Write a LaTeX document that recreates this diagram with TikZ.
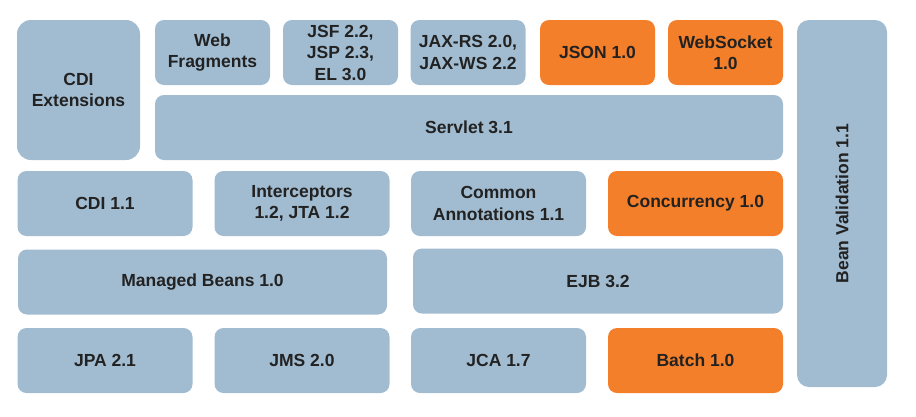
\documentclass[tikz,border=0pt]{standalone}
\usepackage{fontspec}
\setmainfont{Liberation Sans}
\definecolor{specblue}{HTML}{A1BCD1}
\definecolor{neworange}{HTML}{F47F2A}
\definecolor{labeltext}{HTML}{222222}

\begin{document}
\begin{tikzpicture}[
    x=1pt, y=-1pt,
    block/.style={fill=specblue, rounded corners=9pt, inner sep=0pt, align=center, text=labeltext,
                  font=\bfseries\fontsize{17.5}{21.5}\selectfont},
    small/.style={block, minimum width=115pt, minimum height=65pt},
    wide/.style={block, minimum width=175pt, minimum height=65pt},
    newspec/.style={fill=neworange}
]
    \useasboundingbox (0,0) rectangle (916,416);

    % --- 上层: Web 部分 ---
    \node[block, minimum width=123pt, minimum height=140pt, rounded corners=14pt] (cdiext) at (78.5,90) {CDI\\Extensions};
    \node[small] (webfrag) at (212.5,52.5) {Web\\Fragments};
    \node[small] (jsf) at (340.5,52.5) {JSF 2.2,\\JSP 2.3,\\EL 3.0};
    \node[small] (jaxrs) at (468,52.5) {JAX-RS 2.0,\\JAX-WS 2.2};
    \node[small, newspec] (json) at (597.5,52.5) {JSON 1.0};
    \node[small, newspec] (websocket) at (725.5,52.5) {WebSocket\\1.0};
    \node[block, minimum width=628pt, minimum height=65pt] (servlet) at (469,127.5) {Servlet 3.1};

    % --- 右侧: 贯穿各层 ---
    \node[block, minimum width=90pt, minimum height=367pt, rounded corners=12pt] (beanval) at (842,203.5) {\rotatebox{90}{Bean Validation 1.1}};

    % --- 中层 ---
    \node[wide] (cdi) at (105,203.5) {CDI 1.1};
    \node[wide] (interceptors) at (302,203.5) {Interceptors\\1.2, JTA 1.2};
    \node[wide] (common) at (498.5,203.5) {Common\\Annotations 1.1};
    \node[wide, newspec] (concurrency) at (695.5,203.5) {Concurrency 1.0};
    \node[block, minimum width=369pt, minimum height=65pt] (managed) at (202.5,282) {Managed Beans 1.0};
    \node[block, minimum width=370pt, minimum height=65pt] (ejb) at (598,281) {EJB 3.2};

    % --- 底层 ---
    \node[wide] (jpa) at (105,360.5) {JPA 2.1};
    \node[wide] (jms) at (302,360.5) {JMS 2.0};
    \node[wide] (jca) at (498.5,360.5) {JCA 1.7};
    \node[wide, newspec] (batch) at (695.5,360.5) {Batch 1.0};

\end{tikzpicture}
\end{document}
